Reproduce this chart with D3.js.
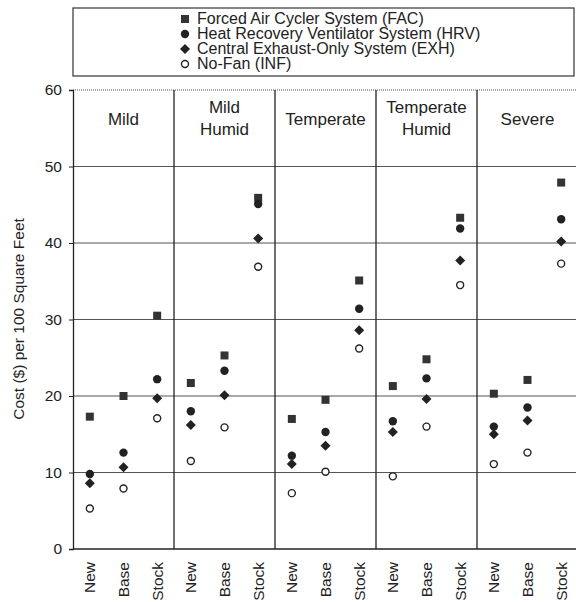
<!DOCTYPE html>
<html>
<head>
<meta charset="utf-8">
<script src="https://cdn.jsdelivr.net/npm/d3@7"></script>
<style>
  body { margin: 0; background: #fff; }
  text { font-family: "Liberation Sans", Arial, sans-serif; fill: #222; }
</style>
</head>
<body>
<script>
var w = 576;
var h = 602;

var regions = ["Mild", "Mild Humid", "Temperate", "Temperate Humid", "Severe"];
var regionLines = [["Mild"], ["Mild", "Humid"], ["Temperate"], ["Temperate", "Humid"], ["Severe"]];
var houses = ["New", "Base", "Stock"];
var yTicks = [0, 10, 20, 30, 40, 50, 60];

// values per region, in order New, Base, Stock
var fac = [[17.3, 20.0, 30.5], [21.7, 25.3, 45.9], [17.0, 19.5, 35.1], [21.3, 24.8, 43.3], [20.3, 22.1, 47.9]];
var hrv = [[9.8, 12.6, 22.2], [18.0, 23.3, 45.1], [12.2, 15.3, 31.4], [16.7, 22.3, 41.9], [16.0, 18.5, 43.1]];
var exh = [[8.6, 10.7, 19.7], [16.2, 20.1, 40.6], [11.1, 13.5, 28.6], [15.3, 19.6, 37.7], [15.0, 16.8, 40.2]];
var inf = [[5.3, 7.9, 17.1], [11.5, 15.9, 36.9], [7.3, 10.1, 26.2], [9.5, 16.0, 34.5], [11.1, 12.6, 37.3]];

var seriesNames = ["Forced Air Cycler System (FAC)", "Heat Recovery Ventilator System (HRV)",
                   "Central Exhaust-Only System (EXH)", "No-Fan (INF)"];
var seriesData = [fac, hrv, exh, inf];
var seriesShape = ["square", "circle", "diamond", "open"];

var margin = {left: 73, top: 90, right: -2, bottom: 53};

var svg = d3.select("body").append("svg")
    .attr("width", w)
    .attr("height", h);

var x = d3.scaleBand()
    .domain(regions)
    .range([margin.left, w - margin.right]);

var xi = d3.scaleBand()
    .domain(houses)
    .range([0, x.bandwidth()]);

var y = d3.scaleLinear()
    .domain([0, 60])
    .range([h - margin.bottom, margin.top]);

// gridlines
svg.selectAll(".grid")
    .data(yTicks.filter(function(d){ return d > 0 && d < 60; }))
    .enter().append("line")
    .attr("x1", margin.left).attr("x2", w)
    .attr("y1", function(d){ return y(d); })
    .attr("y2", function(d){ return y(d); })
    .attr("stroke", "#555").attr("stroke-width", 1.2);

// top dotted line
svg.append("line")
    .attr("x1", margin.left).attr("x2", w)
    .attr("y1", y(60)).attr("y2", y(60))
    .attr("stroke", "#555").attr("stroke-width", 1.2)
    .attr("stroke-dasharray", "1,1");

// panel dividers
svg.selectAll(".div")
    .data(regions.slice(1))
    .enter().append("line")
    .attr("x1", function(d){ return x(d); })
    .attr("x2", function(d){ return x(d); })
    .attr("y1", y(60)).attr("y2", y(0))
    .attr("stroke", "#222").attr("stroke-width", 1.3);

// bottom line
svg.append("line")
    .attr("x1", margin.left).attr("x2", w)
    .attr("y1", y(0)).attr("y2", y(0))
    .attr("stroke", "#222").attr("stroke-width", 1.3);

// y axis
var yAxis = svg.append("g")
    .attr("transform", "translate(" + margin.left + ",0)")
    .call(d3.axisLeft(y).tickValues(yTicks).tickSize(4).tickPadding(7));
yAxis.select(".domain").attr("stroke", "#222").attr("stroke-width", 1.3);
yAxis.selectAll(".tick line").attr("stroke", "#222");
yAxis.selectAll("text")
    .style("font-size", "15.5px")
    .style("font-family", "'Liberation Sans', Arial, sans-serif")
    .attr("fill", "#222");

svg.append("text")
    .attr("transform", "translate(24," + 319 + ") rotate(-90)")
    .attr("text-anchor", "middle")
    .style("font-size", "15.5px")
    .text("Cost ($) per 100 Square Feet");

// panel titles
regions.forEach(function(r, i){
  var lines = regionLines[i];
  var cxp = x(r) + x.bandwidth() / 2;
  var t = svg.append("text")
      .attr("x", cxp)
      .attr("text-anchor", "middle")
      .style("font-size", "17px");
  if (lines.length === 1) {
    t.attr("y", 125).text(lines[0]);
  } else {
    t.append("tspan").attr("x", cxp).attr("y", 113).text(lines[0]);
    t.append("tspan").attr("x", cxp).attr("y", 135).text(lines[1]);
  }

  // x labels
  houses.forEach(function(hs){
    var cx = x(r) + xi(hs) + xi.bandwidth() / 2;
    svg.append("text")
        .attr("transform", "translate(" + (cx + 5.5) + "," + 562 + ") rotate(-90)")
        .attr("text-anchor", "end")
        .style("font-size", "15.5px")
        .text(hs);
  });
});

function drawMark(g, shape, cx, cy) {
  if (shape === "square") {
    g.append("rect").attr("x", cx - 4).attr("y", cy - 4)
        .attr("width", 8).attr("height", 8).attr("fill", "#333");
  } else if (shape === "circle") {
    g.append("circle").attr("cx", cx).attr("cy", cy).attr("r", 4.2).attr("fill", "#222");
  } else if (shape === "diamond") {
    g.append("path")
        .attr("d", "M" + cx + "," + (cy - 5) + "L" + (cx + 5) + "," + cy + "L" + cx + "," + (cy + 5) + "L" + (cx - 5) + "," + cy + "Z")
        .attr("fill", "#222");
  } else {
    g.append("circle").attr("cx", cx).attr("cy", cy).attr("r", 3.5)
        .attr("fill", "#fff").attr("stroke", "#222").attr("stroke-width", 1.4);
  }
}

// points
var marks = svg.append("g");
seriesData.forEach(function(sd, s){
  sd.forEach(function(vals, i){
    vals.forEach(function(v, j){
      var cx = x(regions[i]) + xi(houses[j]) + xi.bandwidth() / 2;
      drawMark(marks, seriesShape[s], cx, y(v));
    });
  });
});

// legend
svg.append("rect")
    .attr("x", 73).attr("y", 8)
    .attr("width", 501).attr("height", 68)
    .attr("fill", "none").attr("stroke", "#333").attr("stroke-width", 1.2);

var leg = svg.append("g");
seriesNames.forEach(function(name, i){
  var ly = 24 + i * 15;
  drawMark(leg, seriesShape[i], 185, ly - 5);
  leg.append("text")
      .attr("x", 197).attr("y", ly)
      .style("font-size", "16px")
      .text(name);
});
</script>
</body>
</html>
